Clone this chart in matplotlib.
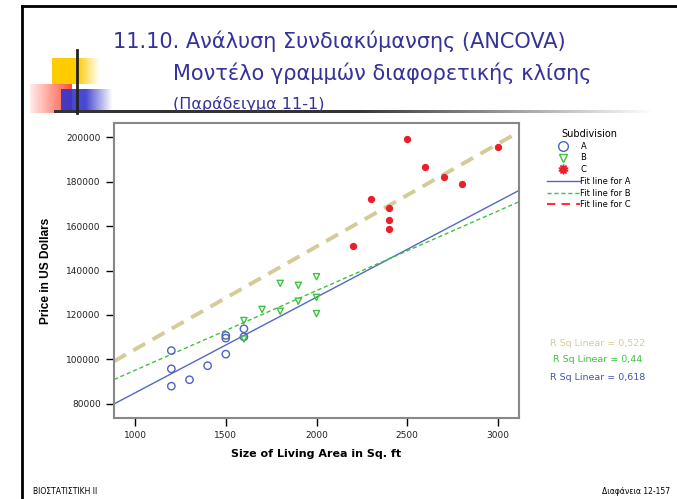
import numpy as np
import matplotlib
matplotlib.use("Agg")
import matplotlib.pyplot as plt
from matplotlib.lines import Line2D

### Données
x_a = [1200, 1200, 1200, 1300, 1400, 1500, 1500, 1500, 1600, 1600]
y_a = [104000, 95800, 88000, 90900, 97200, 110800, 109600, 102400, 113800, 110200]
x_b = [1600, 1600, 1700, 1800, 1800, 1900, 1900, 2000, 2000, 2000]
y_b = [117500, 109200, 122500, 134200, 121700, 133300, 126200, 137200, 127900, 120600]
x_c = [2200, 2300, 2400, 2400, 2400, 2500, 2600, 2700, 2800, 3000]
y_c = [151000, 172200, 168000, 162900, 158700, 199200, 186700, 182200, 179000, 195600]

groups = ["A", "B", "C"]
fit_slope = [43.0, 35.8, 46.2]
fit_intercept = [42000, 59350, 58360]
r_sq = ["0,522", "0,44", "0,618"]

x_ticks = [1000, 1500, 2000, 2500, 3000]
y_ticks = [80000, 100000, 120000, 140000, 160000, 180000, 200000]

titre1 = "11.10. Ανάλυση Συνδιακύμανσης (ANCOVA)"
titre2 = "Μοντέλο γραμμών διαφορετικής κλίσης"
titre3 = "(Παράδειγμα 11-1)"

W, H = 677, 499
fig = plt.figure(figsize=(W / 100, H / 100), dpi=100)
fig.patch.set_facecolor("white")

# couche de fond en pixels
bg = fig.add_axes([0, 0, 1, 1])
bg.axis("off")

def gradient(ax, x0, x1, y0, y1, rgb, alphas):
    a = np.array(alphas)
    img = np.zeros((1, len(a), 4))
    img[0, :, :3] = rgb
    img[0, :, 3] = a
    ax.imshow(img, extent=(x0, x1, y1, y0), aspect="auto", interpolation="bilinear", zorder=2)

# décor de la diapo
gradient(bg, 52, 100, 58, 84, (1.0, 0.8, 0.0), np.concatenate([np.ones(26), np.linspace(1, 0, 24)]))
gradient(bg, 30, 72, 84, 113, (1.0, 0.2, 0.1), np.linspace(0.1, 0.85, 40))
gradient(bg, 61, 113, 89, 113, (0.2, 0.2, 0.8), np.concatenate([np.full(24, 0.9), np.linspace(0.9, 0, 28)]))
n = 300
grey = np.concatenate([np.full(150, 0.2), np.linspace(0.2, 1.0, 150)])
strip = np.ones((1, n, 4))
strip[0, :, 0] = grey
strip[0, :, 1] = grey
strip[0, :, 2] = grey
bg.imshow(strip, extent=(54, 654, 112.5, 109.5), aspect="auto", interpolation="bilinear", zorder=3)
bg.plot([77, 77], [50, 113], color="#222222", lw=2, zorder=4)
bg.plot([22, 22], [6, 499], color="black", lw=2)
bg.plot([22, 677], [6, 6], color="black", lw=2)
bg.set_xlim(0, W)
bg.set_ylim(H, 0)

bleu_titre = "#333399"
bg.text(113, 48, titre1, fontsize=15, color=bleu_titre, va="baseline", ha="left")
bg.text(173, 80, titre2, fontsize=15, color=bleu_titre, va="baseline", ha="left")
bg.text(173, 109, titre3, fontsize=11.5, color=bleu_titre, va="baseline", ha="left")

bg.text(33, 491, "ΒΙΟΣΤΑΤΙΣΤΙΚΗ ΙΙ", fontsize=5.5, va="center", ha="left")
bg.text(670, 491, "Διαφάνεια 12-157", fontsize=5.5, va="center", ha="right")

# graphique
ax = fig.add_axes([114 / W, 1 - 418 / H, 405 / W, 295 / H])
xlim = (884, 3116)
ax.set_xlim(*xlim)
ax.set_ylim(73700, 206300)

col_a, col_b, col_c = "#4f63c0", "#3cc43c", "#e8202a"
col_fit_c = "#d3cc98"

xs = np.array(xlim)
ax.plot(xs, fit_intercept[0] + fit_slope[0] * xs, color="#5567c2", lw=1, zorder=2)
ax.plot(xs, fit_intercept[1] + fit_slope[1] * xs, color=col_b, lw=1, dashes=(3, 2), zorder=2)
ax.plot(xs, fit_intercept[2] + fit_slope[2] * xs, color=col_fit_c, lw=2.8, dashes=(3.5, 2.2), zorder=2)

ax.scatter(x_a, y_a, s=28, facecolors="none", edgecolors=col_a, linewidths=1, zorder=3)
ax.scatter(x_b, y_b, s=20, marker="v", facecolors="none", edgecolors=col_b, linewidths=1, zorder=3)
ax.scatter(x_c, y_c, s=18, marker="o", color=col_c, zorder=3)

ax.set_xticks(x_ticks)
ax.set_yticks(y_ticks)
ax.tick_params(labelsize=6.5, length=6, width=1, color="black", labelcolor="#222222")
for s in ax.spines.values():
    s.set_color("#888888")
    s.set_linewidth(1.5)

ax.set_xlabel("Size of Living Area in Sq. ft", fontsize=8, fontweight="bold", labelpad=6)
ax.set_ylabel("Price in US Dollars", fontsize=8.6, fontweight="bold",
              family=["Liberation Sans Narrow", "Liberation Sans", "DejaVu Sans"], labelpad=10)

# légende
handles = [
    Line2D([], [], ls="none", marker="o", mfc="none", mec=col_a, ms=7),
    Line2D([], [], ls="none", marker="v", mfc="none", mec=col_b, ms=6),
    Line2D([], [], ls="none", marker=(10, 1, 0), color=col_c, ms=7),
    Line2D([], [], color="#5567c2", lw=1),
    Line2D([], [], color=col_b, lw=1, dashes=(3, 2)),
    Line2D([], [], color="#ff3333", lw=1.5, dashes=(4, 3)),
]
labels = groups + ["Fit line for " + g for g in groups]
leg = fig.legend(handles, labels, loc="upper left", bbox_to_anchor=(543 / W, 1 - 125 / H),
                 frameon=False, fontsize=6, title="Subdivision", title_fontsize=7,
                 handlelength=3.9, handletextpad=0.1, labelspacing=0.32, borderpad=0)

# R carré
r_cols = [col_fit_c, col_b, "#4455aa"]
r_y = [343, 360, 377]
for txt, c, yy in zip(r_sq, r_cols, r_y):
    bg.text(598, yy, "R Sq Linear = " + txt, fontsize=6.8, color=c, ha="center", va="center")

plt.savefig("out.png", dpi=100)
plt.close()
